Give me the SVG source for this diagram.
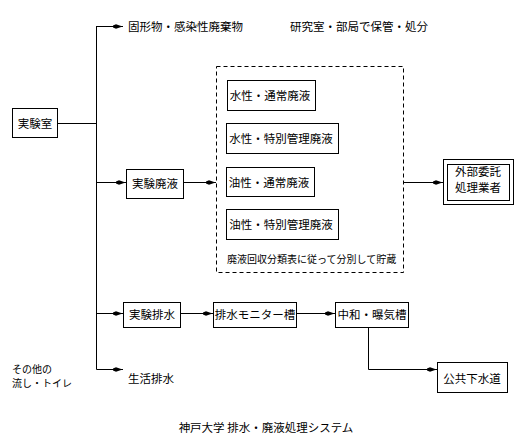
<svg xmlns="http://www.w3.org/2000/svg" width="531" height="446" viewBox="0 0 531 446">
<style>
.bx{fill:#fff;stroke:#000;stroke-width:1}
.t{font-family:"Noto Sans CJK JP","Noto Sans",sans-serif;font-size:11.5px;fill:#000;dominant-baseline:central}
.s{font-size:10px}
.c{text-anchor:middle}
.ln{fill:none;stroke:#000;stroke-width:1}
.ar{marker-end:url(#ah)}
</style>
<defs>
<marker id="ah" markerWidth="12" markerHeight="8" refX="11" refY="4" orient="auto" markerUnits="userSpaceOnUse">
<path d="M1,3 L4,1.7 L10.5,4 L4,6.3 L1,5 Z" fill="#000"/>
</marker>
</defs>
<rect width="531" height="446" fill="#fff"/>
<g id="connectors">
<path class="ln" d="M96.5,26 V369.5"/>
<path class="ln" d="M57,123.5 H96.5"/>
<path class="ln ar" d="M96.5,26.5 H123"/>
<path class="ln ar" d="M96.5,182.5 H126"/>
<path class="ln ar" d="M183,182.5 H216"/>
<path class="ln ar" d="M404,182.5 H443"/>
<path class="ln ar" d="M96.5,313.5 H123"/>
<path class="ln ar" d="M180,313.5 H213"/>
<path class="ln ar" d="M297,313.5 H335"/>
<path class="ln ar" d="M368.5,328 V369.5 H437"/>
<path class="ln ar" d="M96.5,369.5 H123"/>
</g>
<g id="lab"><rect class="bx" x="12.5" y="108.5" width="45" height="29"/><text class="t c" x="35" y="123">実験室</text></g>
<g id="solid"><text class="t" x="128" y="26">固形物・感染性廃棄物</text></g>
<g id="note"><text class="t" x="290" y="26">研究室・部局で保管・処分</text></g>
<g id="haieki"><rect class="bx" x="126.5" y="169.5" width="57" height="29"/><text class="t c" x="155" y="183">実験廃液</text></g>
<g id="storage">
<rect x="216.5" y="66.5" width="187" height="206" fill="none" stroke="#000" stroke-width="1" stroke-dasharray="4,3"/>
<text class="t s" x="227" y="258">廃液回収分類表に従って分別して貯蔵</text>
</g>
<g id="w1"><rect class="bx" x="227.5" y="80.5" width="88" height="30"/><text class="t c" x="270" y="95">水性・通常廃液</text></g>
<g id="w2"><rect class="bx" x="226.5" y="123.5" width="112" height="30"/><text class="t c" x="281" y="138">水性・特別管理廃液</text></g>
<g id="o1"><rect class="bx" x="226.5" y="167.5" width="88" height="29"/><text class="t c" x="269" y="182">油性・通常廃液</text></g>
<g id="o2"><rect class="bx" x="226.5" y="209.5" width="112" height="30"/><text class="t c" x="281" y="224">油性・特別管理廃液</text></g>
<g id="gaibu">
<rect class="bx" x="443.5" y="159.5" width="70" height="45"/>
<rect class="bx" x="447.5" y="164.5" width="62" height="36"/>
<text class="t c" x="478" y="171">外部委託</text>
<text class="t c" x="478" y="187">処理業者</text>
</g>
<g id="haisui"><rect class="bx" x="123.5" y="302.5" width="57" height="25"/><text class="t c" x="152" y="314">実験排水</text></g>
<g id="monitor"><rect class="bx" x="213.5" y="302.5" width="83" height="25"/><text class="t c" x="255" y="314">排水モニター槽</text></g>
<g id="chuwa"><rect class="bx" x="335.5" y="302.5" width="73" height="25"/><text class="t c" x="372" y="314">中和・曝気槽</text></g>
<g id="gesui"><rect class="bx" x="437.5" y="362.5" width="70" height="30"/><text class="t c" x="472" y="378">公共下水道</text></g>
<g id="seikatsu"><text class="t" x="128" y="378">生活排水</text></g>
<g id="other">
<text class="t" x="12" y="368.5" style="font-size:10px">その他の</text>
<text class="t" x="12" y="382" style="font-size:10px">流し・トイレ</text>
</g>
<g id="title"><text class="t c" x="266" y="427">神戸大学 排水・廃液処理システム</text></g>
</svg>
